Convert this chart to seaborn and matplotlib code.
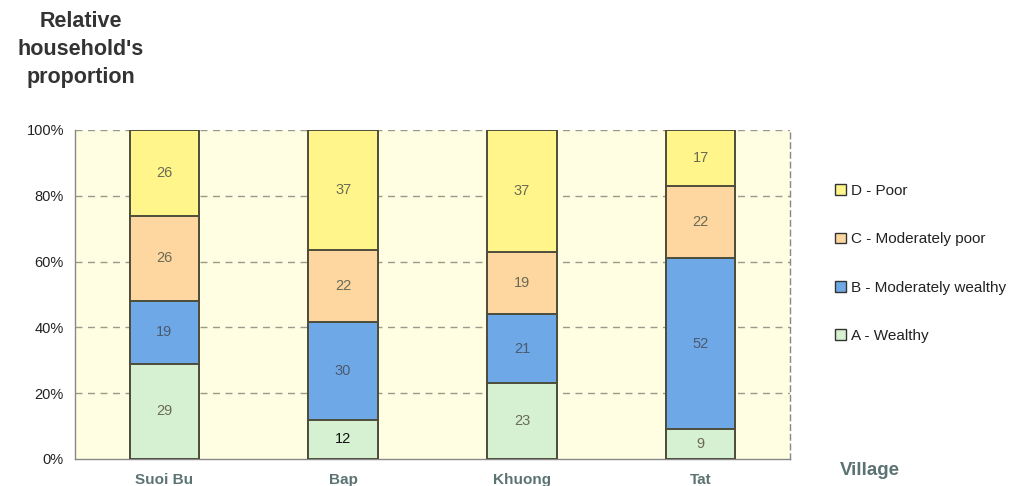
import numpy as np
import pandas as pd
import matplotlib
matplotlib.use("Agg")
import matplotlib.pyplot as plt
from matplotlib.patches import Patch
import seaborn as sns

villages = ["Suoi Bu", "Bap", "Khuong", "Tat"]
wealthy = [29, 12, 23, 9]
mod_wealthy = [19, 30, 21, 52]
mod_poor = [26, 22, 19, 22]
poor = [26, 37, 37, 17]

groups = ["A - Wealthy", "B - Moderately wealthy", "C - Moderately poor", "D - Poor"]
colors = ["#d6f0d2", "#6fa8e6", "#fdd6a0", "#fff58a"]
label_colors = ["#6b6b55", "#4a5a70", "#6b6b55", "#6b6b55"]

counts = np.array([wealthy, mod_wealthy, mod_poor, poor], dtype=float)
pct = counts / counts.sum(axis=0) * 100
cum = np.cumsum(pct, axis=0)

sns.set_style("white")
plt.rcParams["font.family"] = ["Liberation Sans", "DejaVu Sans"]

fig = plt.figure(figsize=(10.22, 4.86), dpi=100)
ax = fig.add_axes([0.0734, 0.0556, 0.6996, 0.677])
ax.set_facecolor("#fffee2")

# draw cumulative stacks from the top layer down so each lower layer overlays
for i in range(3, -1, -1):
    df = pd.DataFrame({"village": villages, "value": cum[i]})
    sns.barplot(data=df, x="village", y="value", color=colors[i], width=0.39,
                edgecolor="#4d4d3a", linewidth=1.4, saturation=1, ax=ax, zorder=3)

# segment labels
for j, v in enumerate(villages):
    for i in range(4):
        mid = cum[i, j] - pct[i, j] / 2
        col = "#111111" if (i == 0 and counts[i, j] == 12) else label_colors[i]
        ax.text(j, mid, f"{int(counts[i, j])}", ha="center", va="center",
                fontsize=10.5, color=col, zorder=5)

ax.set_xlim(-0.5, 3.5)
ax.set_ylim(0, 100)
ax.set_yticks([0, 20, 40, 60, 80, 100])
ax.set_yticklabels(["0%", "20%", "40%", "60%", "80%", "100%"], fontsize=10.5, color="#222222")
ax.set_xticks(range(4))
ax.set_xticklabels(villages, fontsize=11, fontweight="bold", color="#5c7373")
ax.tick_params(axis="x", length=0, pad=10)
ax.tick_params(axis="y", length=4, width=1, color="#888888", direction="out", pad=4)
ax.set_xticks([0.5, 1.5, 2.5], minor=True)
ax.tick_params(axis="x", which="minor", length=4, color="#888888", direction="out")
ax.set_xlabel("")
ax.set_ylabel("")

for y in [20, 40, 60, 80, 100]:
    ax.axhline(y, color="#9a9a8a", linestyle=(0, (5, 4)), linewidth=1, zorder=1)

for s in ["left", "bottom"]:
    ax.spines[s].set_color("#888888")
    ax.spines[s].set_linewidth(1)
ax.spines["top"].set_visible(False)
ax.spines["right"].set_color("#888888")
ax.spines["right"].set_linestyle((0, (4, 3)))
ax.spines["right"].set_linewidth(1)

fig.text(0.079, 0.978, "Relative\nhousehold's\nproportion", ha="center", va="top",
         fontsize=15.5, fontweight="bold", color="#333333", linespacing=1.45)
fig.text(0.851, 0.032, "Village", ha="center", va="center",
         fontsize=13.5, fontweight="bold", color="#5c7373")

handles = [Patch(facecolor=colors[i], edgecolor="#333333", linewidth=1, label=groups[i])
           for i in range(3, -1, -1)]
leg = fig.legend(handles=handles, loc="upper left", bbox_to_anchor=(0.804, 0.65),
                 frameon=False, fontsize=11, labelspacing=2.25, handlelength=0.7,
                 handleheight=0.7, handletextpad=0.3)
for t in leg.get_texts():
    t.set_color("#222222")

fig.savefig("out.png", dpi=100, facecolor="white")
